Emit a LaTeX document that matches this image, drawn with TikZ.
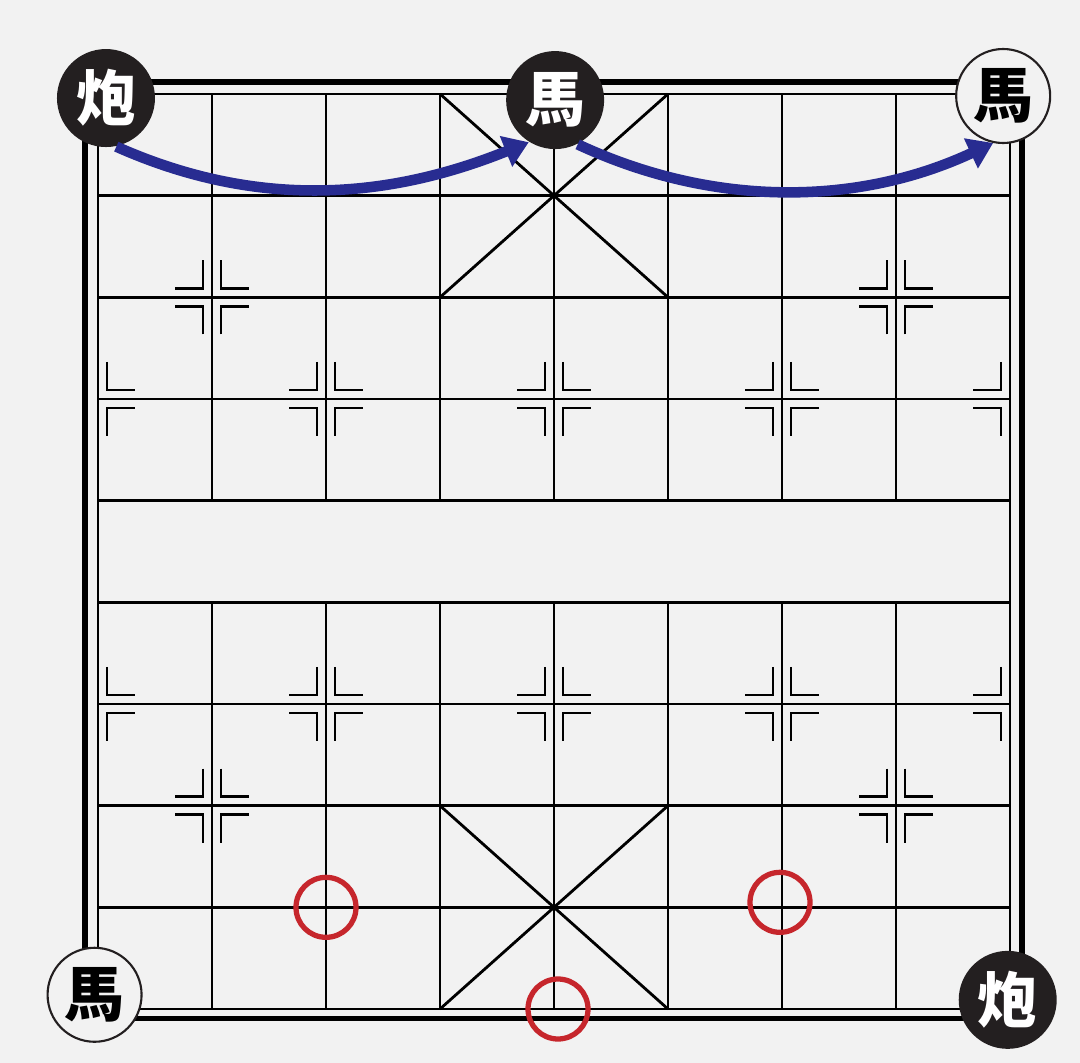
\documentclass[tikz,border=0pt]{standalone}
\usepackage{fontspec}
\usepackage{tikz}
\usetikzlibrary{arrows.meta}
\newfontfamily\cjk{Noto Sans CJK SC}
\definecolor{bg}{RGB}{242,242,242}
\definecolor{navy}{RGB}{40,44,145}
\definecolor{ringred}{RGB}{198,38,44}
\definecolor{ink}{RGB}{35,31,32}
\tikzset{
  gridline/.style={line width=0.8pt},
  frameline/.style={line width=1.5pt},
  markline/.style={line width=0.8pt},
  piece/.style={circle,inner sep=0pt,font=\cjk\bfseries\fontsize{17}{17}\selectfont},
  black piece/.style={piece,fill=ink,text=white,minimum size=0.98cm},
  white piece/.style={piece,draw=ink,fill=bg,line width=0.6pt,minimum size=0.94cm},
  ring/.style={circle,draw=ringred,line width=1.5pt,minimum size=0.6cm,inner sep=0pt},
  move/.style={-{Triangle[length=7pt,width=9pt]},line width=3pt,draw=navy}
}
\begin{document}
\begin{tikzpicture}[x=1.14cm,y=1.0167cm]
  \fill[bg] (-0.8596,0.9243) rectangle (8.614,-9.528);
  \useasboundingbox (-0.8596,0.9243) rectangle (8.614,-9.528);

  % board points
  \foreach \c in {0,...,8}
    \foreach \r in {0,...,9}
      \coordinate (p\c\r) at (\c,-\r);

  \draw[frameline] (-0.114,0.118) rectangle (8.105,-9.095);
  \draw[gridline] (p00) rectangle (p89);
  \foreach \r in {1,...,8}
    \draw[gridline] (p0\r) -- (p8\r);
  \foreach \c in {1,...,7} {
    \draw[gridline] (p\c0) -- (p\c4);
    \draw[gridline] (p\c5) -- (p\c9);
  }
  \draw[gridline] (p30) -- (p52) (p50) -- (p32);
  \draw[gridline] (p37) -- (p59) (p57) -- (p39);

  % marks
  \foreach \c/\r in {1/2,7/2,2/3,4/3,6/3,2/6,4/6,6/6,1/7,7/7}
    \foreach \sx in {-1,1}
      \foreach \sy in {-1,1}
        \draw[markline] ([shift={(\sx*0.09cm,\sy*0.37cm)}]p\c\r) -- ++(0cm,-\sy*0.28cm) -- ++(\sx*0.28cm,0cm);
  \foreach \r in {3,6}
    \foreach \sy in {-1,1} {
      \draw[markline] ([shift={(0.09cm,\sy*0.37cm)}]p0\r) -- ++(0cm,-\sy*0.28cm) -- ++(0.28cm,0cm);
      \draw[markline] ([shift={(-0.09cm,\sy*0.37cm)}]p8\r) -- ++(0cm,-\sy*0.28cm) -- ++(-0.28cm,0cm);
    }

  \node[ring] (r1) at (p28) {};
  \node[ring] (r2) at ([shift={(-0.02cm,0.05cm)}]p68) {};
  \node[ring] (r3) at ([xshift=0.04cm]p49) {};

  \node[black piece] (pao1) at (0.07,-0.04) {炮};
  \node[black piece] (ma1) at (4.01,-0.06) {馬};
  \node[white piece] (ma2) at (7.94,-0.02) {馬};
  \node[white piece] (ma3) at (-0.03,-8.86) {馬};
  \node[black piece] (pao2) at (7.98,-8.91) {炮};

  \draw[move] (pao1.282) to[out=-24,in=202,looseness=0.95] (ma1.238);
  \draw[move] (ma1.297) to[out=-25,in=205,looseness=0.92] (ma2.258);
\end{tikzpicture}
\end{document}
